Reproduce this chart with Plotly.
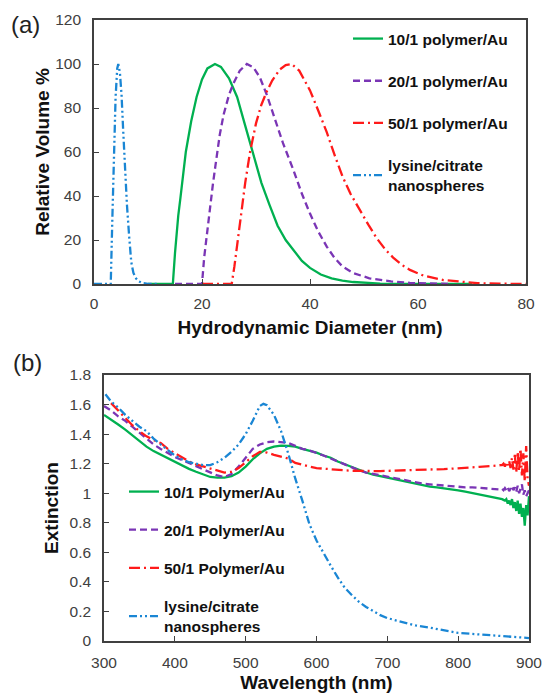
import plotly.graph_objects as go

# ---------------- Panel (a): DLS size distributions ----------------
a_green_x = [10, 14.6, 15.0, 15.3, 15.6, 16.0, 16.5, 17.0, 18.0, 19.0, 20.0, 21.0, 22.4, 23.5, 25.0,
             26.5, 28.0, 29.5, 31.0, 32.5, 34.0, 35.5, 37.0, 38.5, 40.0, 42.0, 44.0, 46.0, 48.0,
             50.0, 53.0, 56.0, 60.0, 70.0]
a_green_y = [0, 0, 14, 23, 31, 39, 50, 60, 74, 85, 93, 98, 100, 98.7, 93.5,
             85, 72, 59, 46, 36, 26.5, 20, 15, 10.5, 7.3, 4.3, 2.6, 1.5, 0.9,
             0.5, 0.2, 0.1, 0, 0]

a_purple_x = [15, 20.0, 20.4, 21.0, 21.5, 22.0, 22.5, 23.3, 24.0, 25.0, 25.8, 27.0, 28.3, 29.5,
              30.7, 32.0, 33.5, 35.0, 36.9, 38.5, 40.0, 41.5, 43.1, 44.5, 46.0, 48.0, 51.0,
              55.0, 58.5, 62.0, 66.0]
a_purple_y = [0, 0, 12, 25, 35, 45, 54, 68, 77, 86, 91, 97, 100, 98.5,
              94, 86, 75, 64, 52, 41, 32, 24, 17, 12, 8, 5, 2.6,
              1.2, 0.5, 0.2, 0]

a_red_x = [20, 25.5, 26.0, 27.0, 28.0, 28.9, 30.0, 31.0, 32.0, 33.0, 34.4, 35.5, 36.6,
           38.0, 40.0, 41.5, 43.1, 44.5, 46.0, 47.5, 49.2, 50.8, 52.3, 54.0, 55.4, 57.0,
           58.5, 61.0, 64.7, 68.0, 71.0, 75.0, 80.0]
a_red_y = [0, 0, 8, 27, 46, 60, 73, 81.5, 87.5, 92.5, 97.5, 99.5, 100,
           97, 88, 79, 69, 59, 49, 41, 33.5, 27, 21, 15.5, 12, 8.7,
           6.4, 3.8, 1.8, 0.9, 0.4, 0.15, 0]

a_blue_x = [0, 3.1, 3.4, 3.7, 4.0, 4.3, 4.5, 4.8, 5.1, 5.4, 5.8, 6.1, 6.5, 6.9, 7.3, 7.8,
            8.3, 9.0, 10.0, 12.0]
a_blue_y = [0, 0, 30, 60, 85, 98, 100, 96, 86, 70, 48, 36, 22, 10, 5, 2.5,
            1.2, 0.4, 0.1, 0]

a_names = ["10/1 polymer/Au", "20/1 polymer/Au", "50/1 polymer/Au",
           "lysine/citrate<br>nanospheres"]

# ---------------- Panel (b): UV-vis extinction ----------------
b_wl = [300, 310, 320, 330, 340, 350, 360, 370, 380, 390, 400, 410, 420, 430, 440, 450,
        460, 470, 480, 490, 500, 510, 520, 530, 540, 550, 560, 570, 580, 590, 600, 610,
        620, 630, 640, 650, 660, 670, 680, 690, 700, 710, 720, 730, 740, 750, 760, 770,
        780, 790, 800, 810, 820, 830, 840, 850, 860]
b_tail_wl = [862, 864, 866, 868, 870, 872, 874, 876, 878, 880, 882, 884, 886, 888, 890,
             892, 894, 896, 898, 900]

b_green = [1.53, 1.50, 1.465, 1.43, 1.39, 1.35, 1.315, 1.285, 1.26, 1.235, 1.21, 1.19,
           1.165, 1.145, 1.125, 1.11, 1.105, 1.105, 1.115, 1.14, 1.18, 1.23, 1.27, 1.30,
           1.315, 1.322, 1.32, 1.315, 1.30, 1.29, 1.275, 1.255, 1.24, 1.215, 1.195, 1.175,
           1.155, 1.14, 1.125, 1.115, 1.10, 1.09, 1.08, 1.07, 1.06, 1.05, 1.045, 1.04,
           1.035, 1.025, 1.02, 1.01, 1.00, 0.995, 0.985, 0.975, 0.965]
b_green_tail = [0.96, 0.955, 0.95, 0.96, 0.93, 0.95, 0.92, 0.96, 0.90, 0.94, 0.88, 0.95,
                0.86, 0.93, 0.84, 0.90, 0.78, 0.92, 0.85, 0.98]

b_purple = [1.59, 1.56, 1.52, 1.49, 1.45, 1.41, 1.37, 1.33, 1.30, 1.27, 1.245, 1.225,
            1.205, 1.185, 1.16, 1.14, 1.12, 1.11, 1.13, 1.18, 1.24, 1.30, 1.33, 1.345,
            1.35, 1.345, 1.34, 1.32, 1.30, 1.29, 1.275, 1.255, 1.235, 1.215, 1.19, 1.175,
            1.155, 1.14, 1.13, 1.12, 1.11, 1.10, 1.09, 1.08, 1.07, 1.065, 1.06, 1.055,
            1.05, 1.045, 1.045, 1.04, 1.04, 1.035, 1.03, 1.03, 1.025]
b_purple_tail = [1.03, 1.02, 1.035, 1.02, 1.04, 1.015, 1.03, 1.05, 1.02, 1.04, 1.01, 1.05,
                 1.00, 1.03, 1.06, 0.99, 1.02, 0.98, 1.00, 1.02]

b_red = [None, 1.61, 1.56, 1.51, 1.46, 1.42, 1.385, 1.36, 1.34, 1.30, 1.27, 1.24,
         1.215, 1.195, 1.18, 1.17, 1.155, 1.14, 1.145, 1.17, 1.21, 1.25, 1.28, 1.275,
         1.26, 1.25, 1.235, 1.205, 1.19, 1.18, 1.17, 1.165, 1.16, 1.158, 1.155, 1.152,
         1.15, 1.15, 1.15, 1.15, 1.152, 1.153, 1.155, 1.156, 1.157, 1.158, 1.16, 1.162,
         1.163, 1.165, 1.168, 1.17, 1.175, 1.178, 1.18, 1.185, 1.19]
b_red_tail = [1.19, 1.20, 1.18, 1.21, 1.19, 1.22, 1.17, 1.24, 1.16, 1.26, 1.14, 1.28,
              1.15, 1.30, 1.12, 1.27, 1.08, 1.32, 1.10, 1.05]

b_blue_wl = [302, 310, 320, 330, 340, 350, 360, 370, 380, 390, 400, 410, 420, 430, 440,
             450, 460, 470, 480, 490, 500, 510, 520, 525, 530, 540, 550, 560, 570, 580,
             590, 600, 610, 620, 630, 640, 650, 660, 670, 680, 690, 700, 720, 740, 760,
             780, 800, 820, 840, 860, 880, 900]
b_blue = [1.67, 1.62, 1.58, 1.53, 1.49, 1.45, 1.42, 1.37, 1.33, 1.29, 1.255, 1.23,
          1.21, 1.20, 1.19, 1.19, 1.21, 1.24, 1.28, 1.33, 1.40, 1.49, 1.59, 1.605,
          1.595, 1.53, 1.42, 1.27, 1.10, 0.95, 0.79, 0.68, 0.59, 0.51, 0.43, 0.36,
          0.31, 0.265, 0.23, 0.20, 0.175, 0.155, 0.13, 0.105, 0.09, 0.07, 0.055, 0.048,
          0.042, 0.035, 0.03, 0.02]

b_names = ["10/1 Polymer/Au", "20/1 Polymer/Au", "50/1 Polymer/Au",
           "lysine/citrate<br>nanospheres"]

# ---------------- styles ----------------
GREEN = "#00B050"
PURPLE = "#7A35B5"
RED = "#FF1A1A"
BLUE = "#1A86D4"
DASH_P = "7px,4px"
DASH_R = "11px,4px,2px,4px"
DASH_B = "8px,3px,2px,3px,2px,3px"
LW = 2.3
FONT = "Liberation Sans, Arial, Helvetica, sans-serif"
AXC = "#404040"

W, H = 543, 693

fig = go.Figure()

a_series = [(a_green_x, a_green_y, GREEN, "solid"),
            (a_purple_x, a_purple_y, PURPLE, DASH_P),
            (a_red_x, a_red_y, RED, DASH_R),
            (a_blue_x, a_blue_y, BLUE, DASH_B)]
for i, (xs, ys, c, d) in enumerate(a_series):
    fig.add_trace(go.Scatter(x=xs, y=ys, mode="lines", name=a_names[i],
                             line=dict(color=c, width=LW, dash=d),
                             xaxis="x", yaxis="y", legend="legend",
                             legendgroup="a%d" % i))

b_series = [(b_wl + b_tail_wl, b_green + b_green_tail, GREEN, "solid"),
            (b_wl + b_tail_wl, b_purple + b_purple_tail, PURPLE, DASH_P),
            (b_wl + b_tail_wl, b_red + b_red_tail, RED, DASH_R),
            (b_blue_wl, b_blue, BLUE, DASH_B)]
for i, (xs, ys, c, d) in enumerate(b_series):
    fig.add_trace(go.Scatter(x=xs, y=ys, mode="lines", name=b_names[i],
                             line=dict(color=c, width=LW, dash=d),
                             xaxis="x2", yaxis="y2", legend="legend2",
                             legendgroup="b%d" % i, connectgaps=False))

def px_x(p):
    return p / W

def px_y(p):
    return 1 - p / H

axis_common = dict(showline=True, linecolor=AXC, linewidth=1.6, mirror=True,
                   ticks="inside", ticklen=5, tickwidth=1.3, tickcolor=AXC,
                   showgrid=False, zeroline=False,
                   tickfont=dict(family=FONT, size=15.5, color=AXC))
title_font = dict(family=FONT, size=19, color="#111111", weight="bold")

fig.update_layout(
    width=W, height=H,
    margin=dict(l=0, r=0, t=0, b=0, autoexpand=False),
    paper_bgcolor="white", plot_bgcolor="white",
    xaxis=dict(axis_common, domain=[px_x(94), px_x(526)], range=[0, 80], dtick=20,
               anchor="y", ticklabelstandoff=5,
               title=dict(text="Hydrodynamic Diameter (nm)", font=title_font, standoff=9)),
    yaxis=dict(axis_common, domain=[px_y(284), px_y(20)], range=[0, 120], dtick=20,
               anchor="x", ticklabelstandoff=8,
               title=dict(text="Relative Volume %", font=title_font, standoff=1)),
    xaxis2=dict(axis_common, domain=[px_x(104), px_x(529)], range=[300, 900], dtick=100,
                anchor="y2", ticklabelstandoff=7,
                title=dict(text="Wavelength (nm)", font=title_font, standoff=5)),
    yaxis2=dict(axis_common, domain=[px_y(641), px_y(375)], range=[0, 1.8], dtick=0.2,
                anchor="x2", ticklabelstandoff=8,
                title=dict(text="Extinction", font=title_font, standoff=6)),
    legend=dict(x=px_x(348), y=px_y(22), xanchor="left", yanchor="top",
                bgcolor="rgba(0,0,0,0)", tracegroupgap=19,
                font=dict(family=FONT, size=15.5, color="#111111", weight="bold")),
    legend2=dict(x=px_x(124), y=px_y(475), xanchor="left", yanchor="top",
                 bgcolor="rgba(0,0,0,0)", tracegroupgap=15,
                 font=dict(family=FONT, size=15.5, color="#111111", weight="bold")),
    annotations=[
        dict(text="(a)", x=px_x(25), y=px_y(25), xref="paper", yref="paper",
             xanchor="center", yanchor="middle",
             showarrow=False, font=dict(family=FONT, size=24, color="#222222")),
        dict(text="(b)", x=px_x(27), y=px_y(362), xref="paper", yref="paper",
             xanchor="center", yanchor="middle",
             showarrow=False, font=dict(family=FONT, size=24, color="#222222")),
    ],
)

fig.write_html("out.html")
